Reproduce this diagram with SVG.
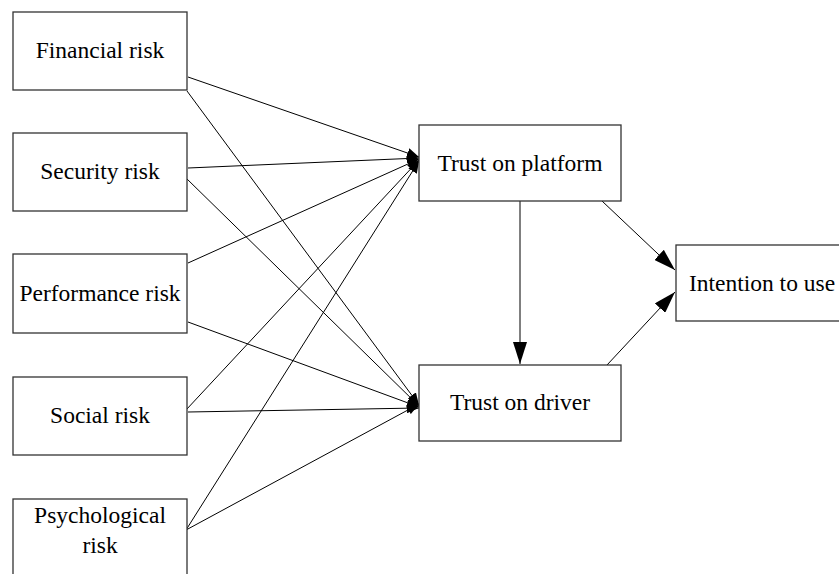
<svg xmlns="http://www.w3.org/2000/svg" width="839" height="574" viewBox="0 0 839 574">
<style>
.box{fill:#fff;stroke:#333;stroke-width:1.3}
.t{font-family:"Liberation Serif","Times New Roman",serif;font-size:23.5px;fill:#000;text-anchor:middle}
.c line{stroke:#000;stroke-width:1}
</style>
<defs>
<marker id="s" viewBox="0 0 12 10" refX="12" refY="5" markerWidth="12" markerHeight="10" markerUnits="userSpaceOnUse" orient="auto"><path d="M0,0L12,5L0,10z" fill="#000"/></marker>
<marker id="b" viewBox="0 0 22 14" refX="22" refY="7" markerWidth="22" markerHeight="14" markerUnits="userSpaceOnUse" orient="auto"><path d="M0,0L22,7L0,14z" fill="#000"/></marker>
</defs>
<rect width="839" height="574" fill="#fff"/>
<g class="c" id="connectors">
<line x1="188" y1="77" x2="419" y2="157" marker-end="url(#s)"/>
<line x1="187" y1="91" x2="419" y2="405" marker-end="url(#s)"/>
<line x1="188" y1="168" x2="419" y2="158" marker-end="url(#s)"/>
<line x1="186" y1="178" x2="419" y2="406" marker-end="url(#s)"/>
<line x1="188" y1="263" x2="419" y2="159" marker-end="url(#s)"/>
<line x1="188" y1="322" x2="419" y2="407" marker-end="url(#s)"/>
<line x1="186" y1="410" x2="419" y2="160" marker-end="url(#s)"/>
<line x1="188" y1="412" x2="419" y2="408" marker-end="url(#s)"/>
<line x1="186" y1="530" x2="419" y2="161" marker-end="url(#s)"/>
<line x1="186" y1="530" x2="419" y2="404" marker-end="url(#s)"/>
<line x1="520" y1="201" x2="520" y2="364" marker-end="url(#b)"/>
<line x1="602" y1="201" x2="675" y2="270" marker-end="url(#b)"/>
<line x1="607" y1="365" x2="675" y2="292" marker-end="url(#b)"/>
</g>
<g id="financial"><rect class="box" x="13" y="12" width="174" height="78"/><text class="t" x="100" y="58">Financial risk</text></g>
<g id="security"><rect class="box" x="13" y="133" width="174" height="78"/><text class="t" x="100" y="179">Security risk</text></g>
<g id="performance"><rect class="box" x="13" y="254" width="174" height="79"/><text class="t" x="100" y="301">Performance risk</text></g>
<g id="social"><rect class="box" x="13" y="377" width="174" height="78"/><text class="t" x="100" y="423">Social risk</text></g>
<g id="psychological"><rect class="box" x="13" y="499" width="174" height="90"/><text class="t" x="100" y="523">Psychological</text><text class="t" x="100" y="553">risk</text></g>
<g id="platform"><rect class="box" x="419" y="125" width="202" height="76"/><text class="t" x="520" y="171">Trust on platform</text></g>
<g id="driver"><rect class="box" x="419" y="365" width="202" height="76"/><text class="t" x="520" y="410">Trust on driver</text></g>
<g id="intention"><rect class="box" x="676" y="245" width="172" height="76"/><text class="t" x="762" y="291">Intention to use</text></g>
</svg>
